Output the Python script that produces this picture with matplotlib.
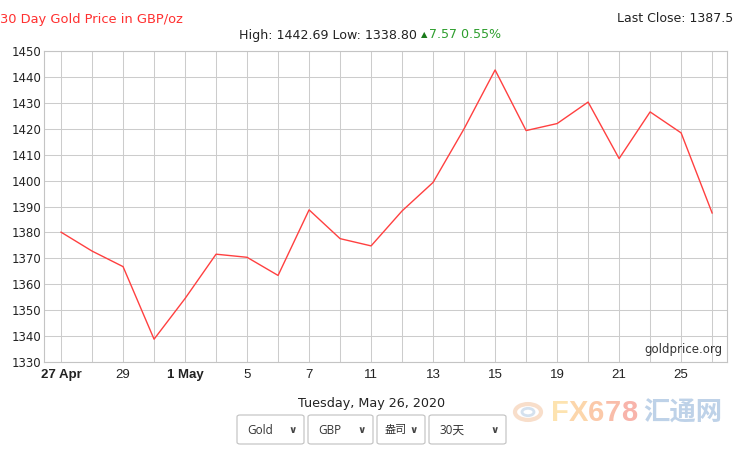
import matplotlib
matplotlib.use("Agg")
import matplotlib.pyplot as plt
from matplotlib.patches import FancyBboxPatch, Circle

# ===== data (GBP/oz, trading days 27 Apr - 26 May 2020) =====
days = ["27 Apr", "28", "29", "30", "1 May", "4", "5", "6", "7", "8", "11",
        "12", "13", "14", "15", "18", "19", "20", "21", "22", "25", "26"]
prices = [1380.1, 1372.8, 1366.8, 1338.8, 1354.5, 1371.6, 1370.4, 1363.4,
          1388.7, 1377.6, 1374.8, 1388.3, 1399.3, 1420.0, 1442.69, 1419.3,
          1422.0, 1430.3, 1408.5, 1426.5, 1418.4, 1387.5]
label_every = 2
bold_labels = ["27 Apr", "1 May"]
y_ticks = list(range(1330, 1451, 10))

title = "30 Day Gold Price in GBP/oz"
summary = "High: 1442.69 Low: 1338.80 "
change = "7.57 0.55%"
last_close = "Last Close: 1387.5"
date_text = "Tuesday, May 26, 2020"
dropdowns = ["Gold", "GBP", "盎司", "30天"]

W, H = 735, 449


def fx(px):
    return px / W


def fy(py):
    return 1 - py / H


fig = plt.figure(figsize=(W / 100, H / 100), dpi=100)
fig.patch.set_facecolor("white")
ax = fig.add_axes([fx(44), fy(362), (727 - 44) / W, (362 - 51) / H])

x = list(range(len(days)))
ax.plot(x, prices, color="#ff4040", lw=1.0, zorder=3)

ax.set_xlim(-0.55, len(days) - 1 + 0.48)
ax.set_ylim(y_ticks[0], y_ticks[-1])
ax.set_yticks(y_ticks)
ax.set_xticks(x)
ax.grid(True, color="#cccccc", lw=0.75, zorder=0)
for sp in ax.spines.values():
    sp.set_color("#c4c4c4")
    sp.set_linewidth(0.8)
ax.tick_params(axis="both", length=0)
ax.tick_params(axis="y", pad=2, labelsize=8.5, labelcolor="#222222")
ax.tick_params(axis="x", pad=5, labelsize=9.5, labelcolor="#222222")

xlabels = [d if i % label_every == 0 else "" for i, d in enumerate(days)]
ax.set_xticklabels(xlabels, family=["Liberation Sans", "DejaVu Sans"])
for lbl in ax.get_xticklabels():
    if lbl.get_text() in bold_labels:
        lbl.set_fontweight("bold")
        lbl.set_family(["Liberation Sans Narrow", "Liberation Sans", "DejaVu Sans"])

ax.text(0.993, 0.02, "goldprice.org", transform=ax.transAxes, ha="right",
        va="bottom", fontsize=8.5, color="#333333")

# ===== header =====
fig.text(fx(0), fy(19), title, color="#ff3030", fontsize=9.4, va="center")
fig.text(fx(733), fy(19), last_close, color="#222222", fontsize=9.0,
         va="center", ha="right")
t1 = fig.text(fx(239), fy(35), summary, color="#222222", fontsize=9.1, va="center")
t2 = ax.annotate("▲", xy=(1, 0.5), xycoords=t1, va="center", ha="left",
                 fontsize=6, color="#1a7a1a", annotation_clip=False)
ax.annotate(change, xy=(1, 0.5), xycoords=t2, xytext=(1, 0),
            textcoords="offset points", va="center", ha="left", fontsize=9.1,
            color="#2e9e2e", annotation_clip=False)

# ===== footer =====
fig.text(fx(372), fy(404), date_text, color="#222222", fontsize=9.2,
         ha="center", va="center")

boxes = [(237, 304), (308, 373), (377, 425), (429, 506)]
for (x0, x1), name in zip(boxes, dropdowns):
    box = FancyBboxPatch((fx(x0), fy(444)), fx(x1 - x0), (444 - 415) / H,
                         boxstyle="round,pad=0,rounding_size=0.004",
                         transform=fig.transFigure, facecolor="white",
                         edgecolor="#c0c0c0", lw=0.8)
    fig.patches.append(box)
    size = 8 if name == "盎司" else 8.5
    left = 8 if name == "盎司" else 10
    fig.text(fx(x0 + left), fy(430), name, fontsize=size, color="#333333",
             va="center", family=["Open Sans", "Noto Sans CJK SC", "DejaVu Sans"])
    fig.text(fx(x1 - 11), fy(430), "∨", fontsize=7.5, color="#444444",
             va="center", ha="center", fontweight="bold")

# ===== faint watermark =====
fig.patches.append(Circle((fx(528), fy(412)), 13 / W, transform=fig.transFigure,
                          facecolor="none", edgecolor="#f4c8a8", lw=3, alpha=0.6))
fig.patches.append(Circle((fx(528), fy(412)), 6 / W, transform=fig.transFigure,
                          facecolor="none", edgecolor="#b8cde4", lw=2, alpha=0.6))
wm_colors = ["#fde0a8", "#fcd2a2", "#fbc3a0", "#f9b6a0", "#f8aca2"]
prev = fig.text(fx(551), fy(413), "F", fontsize=21, color=wm_colors[0],
                va="center", fontweight="bold", alpha=0.9,
                family=["Liberation Sans Narrow", "Liberation Sans", "DejaVu Sans"])
for ch, c in zip("X678", wm_colors[1:]):
    prev = ax.annotate(ch, xy=(1, 0.5), xycoords=prev, va="center", ha="left",
                       fontsize=21, color=c, fontweight="bold", alpha=0.9,
                       family=["Liberation Sans Narrow", "Liberation Sans", "DejaVu Sans"],
                       annotation_clip=False)
ax.annotate("汇通网", xy=(1, 0.5), xycoords=prev, xytext=(5, 0),
            textcoords="offset points", va="center", ha="left", fontsize=19,
            color="#b7cde6", fontweight="bold", alpha=0.9,
            family=["Noto Sans CJK SC", "DejaVu Sans"], annotation_clip=False)

fig.savefig("out.png", dpi=100, facecolor="white")
